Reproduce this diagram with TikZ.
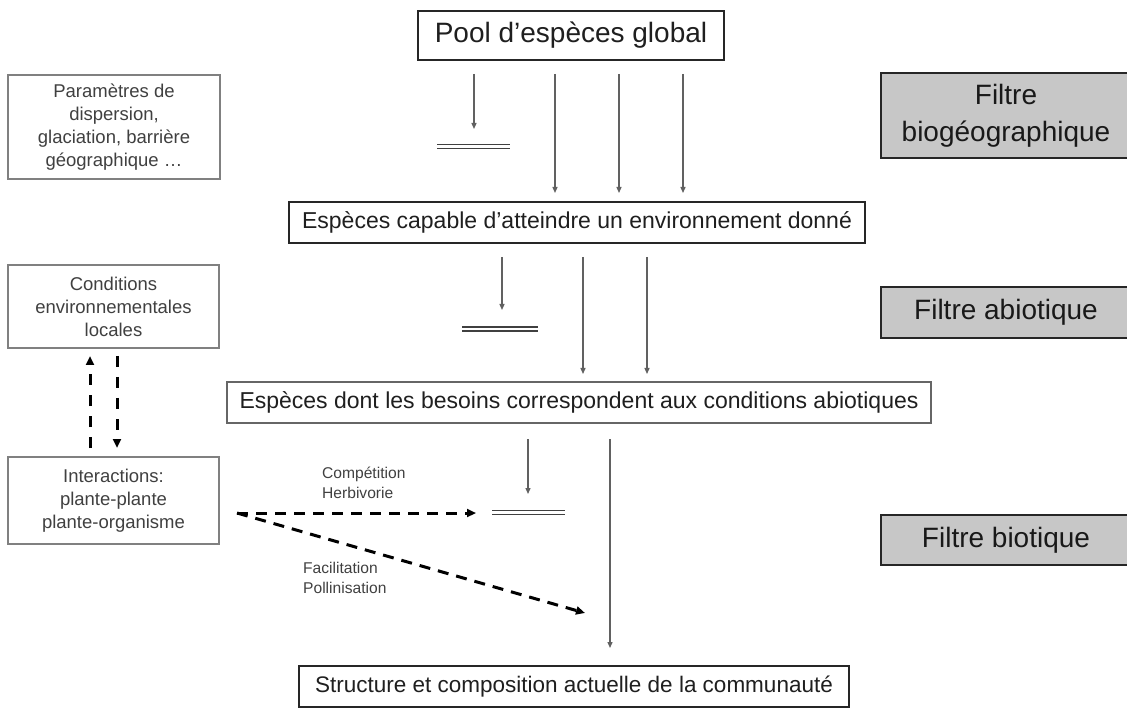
\documentclass[tikz,border=0pt]{standalone}
\usepackage{fontspec}
\setmainfont{Liberation Sans}
\usetikzlibrary{arrows.meta}
\begin{document}
\begin{tikzpicture}[x=1pt,y=-1pt,
  mainbox/.style={draw=black!85, line width=2.2pt, fill=white, inner sep=0pt, text=black!88},
  midbox/.style={draw=black!60, line width=1.8pt, fill=white, inner sep=0pt, text=black!88},
  sidebox/.style={draw=black!50, line width=1.4pt, fill=white, inner sep=0pt, align=center, text=black!75, font=\fontsize{18.5}{23}\selectfont},
  filterbox/.style={draw=black!85, line width=2.4pt, fill=black!22, inner sep=0pt},
  filtertext/.style={inner sep=0pt, align=center, text=black!90, font=\fontsize{28}{37}\selectfont},
  thinarrow/.style={draw=black!62, line width=1.3pt, -{Triangle[length=6pt,width=5pt]}},
  dasharrow/.style={draw=black, line width=3pt, dash pattern=on 11pt off 8pt, -{Triangle[length=9pt,width=8pt]}},
  vdasharrow/.style={draw=black, line width=3pt, dash pattern=on 11pt off 10pt, -{Triangle[length=9pt,width=8pt]}},
  filterbar/.style={draw=black!75, double=white, double distance=2.6pt, line width=1.5pt},
  smalllabel/.style={inner sep=0pt, align=left, text=black!75, font=\fontsize{15.6}{20}\selectfont}
]
\useasboundingbox (0,0) rectangle (1127,708);

% main flow boxes
\node[mainbox, minimum width=306pt, minimum height=49pt, font=\fontsize{28}{34}\selectfont] (pool) at (571,35.5) {Pool d’espèces global};
\node[mainbox, minimum width=576pt, minimum height=41pt, font=\fontsize{23}{28}\selectfont] (cap) at (577,222.5) {Espèces capable d’atteindre un environnement donné};
\node[midbox, minimum width=704pt, minimum height=41pt, font=\fontsize{23}{28}\selectfont] (dont) at (579,402.5) {Espèces dont les besoins correspondent aux conditions abiotiques};
\node[mainbox, minimum width=550pt, minimum height=41pt, font=\fontsize{22.5}{27}\selectfont] (struct) at (574,686.5) {Structure et composition actuelle de la communauté};

% left boxes
\node[sidebox, minimum width=212pt, minimum height=104pt] (param) at (114,127) {Paramètres de\\dispersion,\\glaciation, barrière\\géographique …};
\node[sidebox, minimum width=211pt, minimum height=83pt] (cond) at (113.5,306.5) {Conditions\\environnementales\\locales};
\node[sidebox, minimum width=211pt, minimum height=87pt] (inter) at (113.5,500.5) {Interactions:\\plante-plante\\plante-organisme};

% filter boxes
\node[filterbox, minimum width=250pt, minimum height=85pt] (fbio) at (1006,115.5) {};
\node[filtertext] (fbiot) at (fbio.center) {Filtre\\biogéographique};
\node[filterbox, minimum width=250pt, minimum height=51pt] (fabio) at (1006,312.5) {};
\node[filtertext] (fabiot) at (fabio.center) {Filtre abiotique};
\node[filterbox, minimum width=250pt, minimum height=50pt] (fbiot2) at (1006,540) {};
\node[filtertext] (fbiott) at (fbiot2.center) {Filtre biotique};

% level 1 arrows
\coordinate (s1a) at (474,74);  \coordinate (e1a) at (474,129);
\coordinate (s1b) at (555,74);  \coordinate (e1b) at (555,193);
\coordinate (s1c) at (619,74);  \coordinate (e1c) at (619,193);
\coordinate (s1d) at (683,74);  \coordinate (e1d) at (683,193);
\draw[thinarrow] (s1a) -- (e1a);
\draw[thinarrow] (s1b) -- (e1b);
\draw[thinarrow] (s1c) -- (e1c);
\draw[thinarrow] (s1d) -- (e1d);
\coordinate (b1l) at (437,146.5); \coordinate (b1r) at (510,146.5);
\draw[filterbar] (b1l) -- (b1r);

% level 2 arrows
\coordinate (s2a) at (502,257); \coordinate (e2a) at (502,310);
\coordinate (s2b) at (583,257); \coordinate (e2b) at (583,374);
\coordinate (s2c) at (647,257); \coordinate (e2c) at (647,374);
\draw[thinarrow] (s2a) -- (e2a);
\draw[thinarrow] (s2b) -- (e2b);
\draw[thinarrow] (s2c) -- (e2c);
\coordinate (b2l) at (462,329); \coordinate (b2r) at (538,329);
\draw[filterbar] (b2l) -- (b2r);

% level 3 arrows
\coordinate (s3a) at (528,439); \coordinate (e3a) at (528,494);
\coordinate (s3b) at (610,439); \coordinate (e3b) at (610,648);
\draw[thinarrow] (s3a) -- (e3a);
\draw[thinarrow] (s3b) -- (e3b);
\coordinate (b3l) at (492,512.5); \coordinate (b3r) at (565,512.5);
\draw[filterbar] (b3l) -- (b3r);

% interactions dashed arrows
\coordinate (ds) at (237,513);
\coordinate (dh) at (476,513);
\coordinate (dd) at (585,613);
\draw[dasharrow] (ds) -- (dh);
\draw[dasharrow] (ds) -- (dd);
\node[smalllabel, anchor=west] (lcomp) at (322,483) {Compétition\\Herbivorie};
\node[smalllabel, anchor=west] (lfac) at (303,578) {Facilitation\\Pollinisation};

% vertical dashed arrows between left boxes
\coordinate (vu1) at (90,448); \coordinate (vu2) at (90,356);
\coordinate (vd1) at (117,356); \coordinate (vd2) at (117,448);
\draw[vdasharrow] (vu1) -- (vu2);
\draw[vdasharrow] (vd1) -- (vd2);
\end{tikzpicture}
\end{document}
